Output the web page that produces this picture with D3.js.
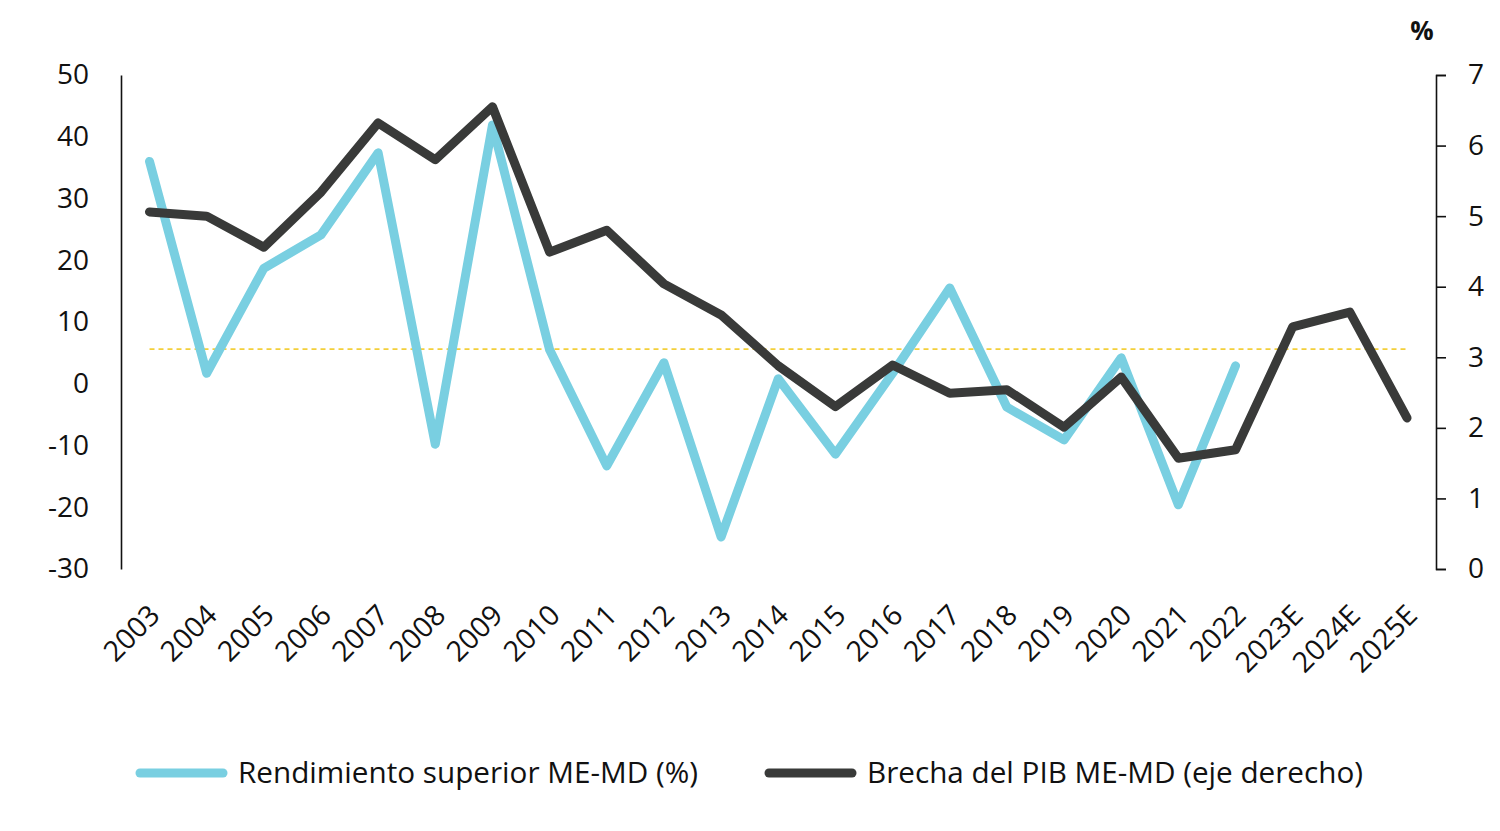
<!DOCTYPE html>
<html>
<head>
<meta charset="utf-8">
<script src="https://cdn.jsdelivr.net/npm/d3@7"></script>
<style>
  html, body { margin: 0; padding: 0; background: #fff; }
  svg text { font-family: "Open Sans", "Noto Sans", sans-serif; fill: #111; }
</style>
</head>
<body>
<svg id="chart" width="1500" height="831"></svg>
<script>
// years on the x axis
const years = ['2003', '2004', '2005', '2006', '2007', '2008', '2009', '2010', '2011', '2012',
  '2013', '2014', '2015', '2016', '2017', '2018', '2019', '2020', '2021', '2022',
  '2023E', '2024E', '2025E'];

// Rendimiento superior ME-MD (%), left axis, ends at 2022
const outperf = [36, 1.7, 18.7, 24.1, 37.4, -9.8, 41.9, 5.5, -13.3, 3.4,
  -24.8, 0.8, -11.4, 1.7, 15.5, -3.8, -9.1, 4.2, -19.6, 2.9];

// Brecha del PIB ME-MD, right axis (%)
const gdpGap = [5.06, 5.0, 4.56, 5.34, 6.32, 5.80, 6.55, 4.49, 4.80, 4.04,
  3.60, 2.88, 2.30, 2.89, 2.49, 2.54, 2.01, 2.72, 1.57, 1.69,
  3.43, 3.64, 2.14];

// dashed reference level (left axis)
const refLevel = [5.6];

const leftTicks = [-30, -20, -10, 0, 10, 20, 30, 40, 50];
const rightTicks = [0, 1, 2, 3, 4, 5, 6, 7];

const legendItems = [
  {label: 'Rendimiento superior ME-MD (%)', color: '#79CFE1'},
  {label: 'Brecha del PIB ME-MD (eje derecho)', color: '#393A39'}
];

const svg = d3.select('#chart');

const x = d3.scalePoint().domain(years).range([149.5, 1407]);
const yL = d3.scaleLinear().domain([-30, 50]).range([569, 75]);
const yR = d3.scaleLinear().domain([0, 7]).range([569, 75]);

// left axis: plain line, no tick marks
const leftAxis = svg.append('g')
  .attr('transform', 'translate(121,0)')
  .call(d3.axisLeft(yL).tickValues(leftTicks).tickSize(0).tickPadding(32).tickFormat(d => String(d)));
leftAxis.select('.domain').attr('stroke', '#111').attr('stroke-width', 1.6);
leftAxis.selectAll('text').style('font-size', '28px').attr('fill', '#111');

// right axis with outward ticks
const rightAxis = svg.append('g')
  .attr('transform', 'translate(1436,0)')
  .call(d3.axisRight(yR).tickValues(rightTicks).tickSizeInner(10).tickSizeOuter(10).tickPadding(22).tickFormat(d => String(d)));
rightAxis.select('.domain').attr('stroke', '#111').attr('stroke-width', 1.6);
rightAxis.selectAll('line').attr('stroke', '#111').attr('stroke-width', 1.6);
rightAxis.selectAll('text').style('font-size', '28px').attr('fill', '#111');

svg.append('text')
  .attr('x', 1422).attr('y', 40)
  .attr('text-anchor', 'middle')
  .style('font-size', '26px').style('font-weight', 'bold')
  .text('%');

// x labels, rotated
svg.append('g').selectAll('text')
  .data(years)
  .enter()
  .append('text')
  .attr('transform', d => `translate(${x(d) + 5},${610}) rotate(-45)`)
  .attr('text-anchor', 'end')
  .attr('dy', '0.35em')
  .style('font-size', '28.5px')
  .text(d => d);

// dashed reference line
svg.append('g').selectAll('line')
  .data(refLevel)
  .enter()
  .append('line')
  .attr('x1', x(years[0]))
  .attr('x2', x(years[years.length - 1]))
  .attr('y1', d => yL(d))
  .attr('y2', d => yL(d))
  .attr('stroke', '#F3CF3A')
  .attr('stroke-width', 1.6)
  .attr('stroke-dasharray', '5,4');

const lineL = d3.line()
  .x((d, i) => x(years[i]))
  .y(d => yL(d));

const lineR = d3.line()
  .x((d, i) => x(years[i]))
  .y(d => yR(d));

svg.append('path')
  .datum(outperf)
  .attr('fill', 'none')
  .attr('stroke', legendItems[0].color)
  .attr('stroke-width', 9)
  .attr('stroke-linejoin', 'round')
  .attr('stroke-linecap', 'round')
  .attr('d', lineL);

svg.append('path')
  .datum(gdpGap)
  .attr('fill', 'none')
  .attr('stroke', legendItems[1].color)
  .attr('stroke-width', 9)
  .attr('stroke-linejoin', 'round')
  .attr('stroke-linecap', 'round')
  .attr('d', lineR);

// legend
const legendX = [140, 769];
const legendW = [460, 496];
const legend = svg.append('g').selectAll('g')
  .data(legendItems)
  .enter()
  .append('g')
  .attr('transform', (d, i) => `translate(${legendX[i]},773)`);

legend.append('line')
  .attr('x1', 0).attr('x2', 83)
  .attr('y1', 0).attr('y2', 0)
  .attr('stroke', d => d.color)
  .attr('stroke-width', 9)
  .attr('stroke-linecap', 'round');

legend.append('text')
  .attr('x', 98)
  .attr('y', 10)
  .attr('textLength', (d, i) => legendW[i])
  .attr('lengthAdjust', 'spacingAndGlyphs')
  .style('font-size', '29.5px')
  .text(d => d.label);
</script>
</body>
</html>
